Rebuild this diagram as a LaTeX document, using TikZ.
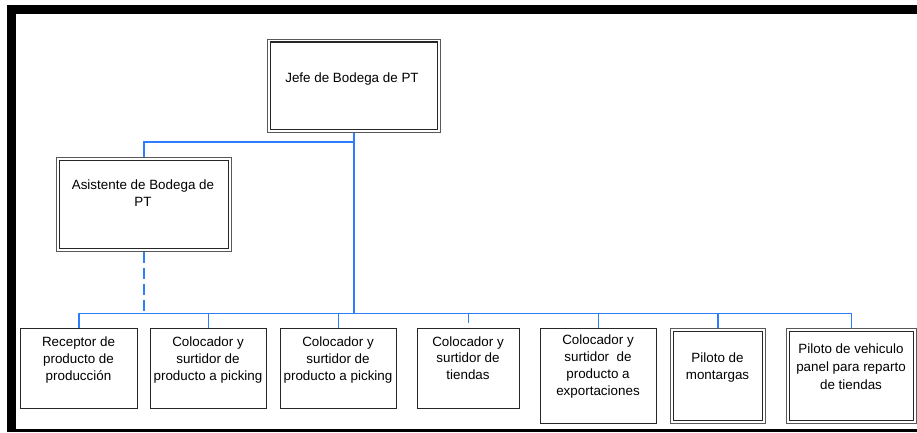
\documentclass[tikz,border=0pt]{standalone}
\usepackage{fontspec}
\setmainfont{Liberation Sans}
\definecolor{linkblue}{RGB}{45,125,255}
\begin{document}
\begin{tikzpicture}[x=1pt,y=-1pt,
  conn/.style={draw=linkblue, line width=1.4pt},
  dottedlink/.style={draw=linkblue, line width=2pt, dash pattern=on 11pt off 5pt},
  plainbox/.style={draw=black!85, line width=0.9pt, fill=white, inner sep=0pt, anchor=north west},
  framedbox/.style={draw=black!65, line width=1pt, fill=white, inner sep=0pt, anchor=north west},
  innerframe/.style={draw=black!85, line width=1.5pt},
  roletext/.style={anchor=north, align=center, inner sep=0pt, font=\fontsize{13.4pt}{16.8pt}\selectfont},
]
\useasboundingbox (0,0) rectangle (917,432);

% heavy page frame (open on the right)
\fill[black] (7,5) rectangle (917,14);
\fill[black] (7,5) rectangle (16,432);
\fill[black] (7,429) rectangle (917,432);

% position boxes
\node[framedbox, minimum width=173pt, minimum height=93.5pt] (jefe) at (267,38.5) {};
\node[framedbox, minimum width=175pt, minimum height=94pt]   (asis) at (56,157) {};
\node[plainbox,  minimum width=117pt, minimum height=80.5pt] (r1) at (20,327.5) {};
\node[plainbox,  minimum width=116pt, minimum height=80.5pt] (r2) at (150,327.5) {};
\node[plainbox,  minimum width=116pt, minimum height=80.5pt] (r3) at (280,327.5) {};
\node[plainbox,  minimum width=102pt, minimum height=80.5pt] (r4) at (417,327.5) {};
\node[plainbox,  minimum width=116pt, minimum height=95.5pt] (r5) at (540,327.5) {};
\node[framedbox, minimum width=95pt,  minimum height=95pt]   (r6) at (670,328) {};
\node[framedbox, minimum width=130pt, minimum height=95pt]   (r7) at (786,328) {};

% inner line of the double-framed boxes
\foreach \n in {jefe,asis,r6,r7}
  \draw[innerframe] ([shift={(3.3pt,-3.3pt)}]\n.north west) rectangle ([shift={(-3.3pt,3.3pt)}]\n.south east);

% box texts
\node[roletext] (tjefe) at (352,72.2) {Jefe de Bodega de PT};
\node[roletext] (tasis) at (143,180) {Asistente de Bodega de\\PT};
\node[roletext] (t1) at (78.5,336.6) {Receptor de\\producto de\\producción};
\node[roletext] (t2) at (208,336.6) {Colocador y\\surtidor de\\producto a picking};
\node[roletext] (t3) at (338,336.6) {Colocador y\\surtidor de\\producto a picking};
\node[roletext] (t4) at (468,336.2) {Colocador y\\surtidor de\\tiendas};
\node[roletext, font=\fontsize{13.4pt}{17pt}\selectfont] (t5) at (598,335) {Colocador y\\surtidor~ de\\producto a\\exportaciones};
\node[roletext, font=\fontsize{13.4pt}{17.7pt}\selectfont] (t6) at (717.5,352.3) {Piloto de\\montargas};
\node[roletext, font=\fontsize{13.4pt}{18pt}\selectfont] (t7) at (851,343.2) {Piloto de vehiculo\\panel para reparto\\de tiendas};

% connectors
\coordinate (bus) at (0,313.3);
\coordinate (branch) at (0,142);
\draw[conn] (jefe.south) -- (jefe.south |- bus);
\draw[conn] (jefe.south |- branch) -| (asis.north);
\draw[dottedlink] (asis.south) -- (asis.south |- bus);
\draw[conn] (r1.north |- bus) -- (r7.north |- bus);
\foreach \n in {r1,r2,r3,r5,r6,r7}
  \draw[conn] (\n.north |- bus) -- (\n.north);
\draw[conn, shorten >=5pt] (r4.north |- bus) -- (r4.north);
\end{tikzpicture}
\end{document}
